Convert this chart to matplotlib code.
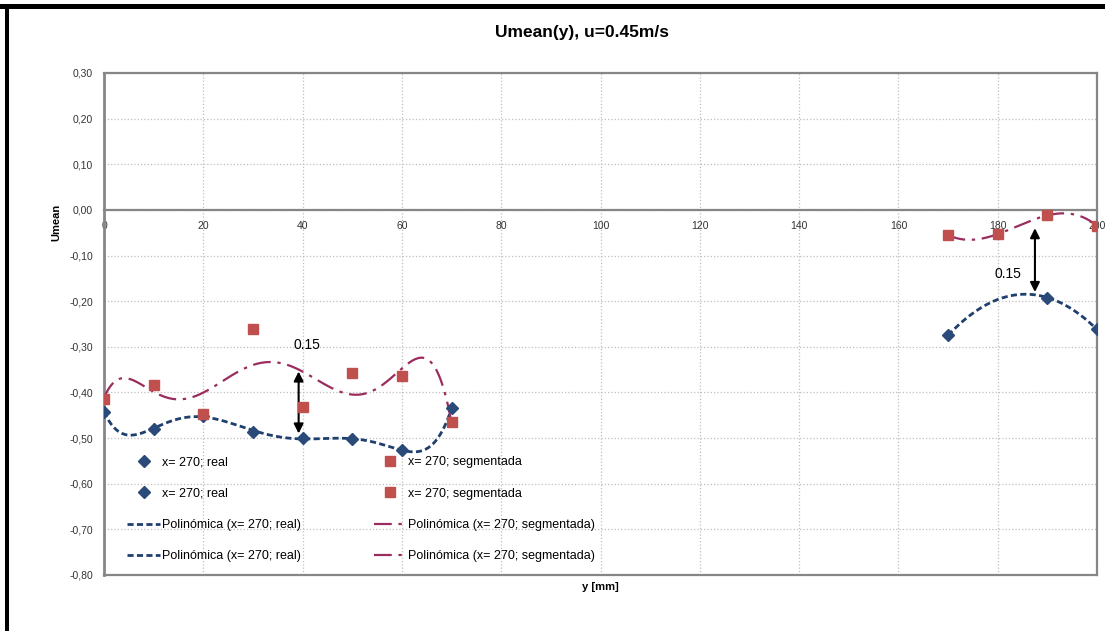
import numpy as np
import matplotlib
matplotlib.use('Agg')
import matplotlib.pyplot as plt
from matplotlib import font_manager
from matplotlib.patches import Rectangle

# font: narrow sans if available
names = {f.name for f in font_manager.fontManager.ttflist}
fam = 'Liberation Sans Narrow' if 'Liberation Sans Narrow' in names else 'Liberation Sans'
plt.rcParams['font.family'] = [fam, 'DejaVu Sans']

# data
y_left = [0, 10, 20, 30, 40, 50, 60, 70]
real_left = [-0.442, -0.479, -0.452, -0.486, -0.499, -0.503, -0.526, -0.435]
seg_left = [-0.414, -0.383, -0.447, -0.262, -0.432, -0.358, -0.363, -0.465]

y_right_real = [170, 190, 200]
real_right = [-0.275, -0.192, -0.262]
y_right_seg = [170, 180, 190, 200]
seg_right = [-0.055, -0.053, -0.012, -0.035]

x_ticks = list(range(0, 201, 20))
y_ticks = [round(v, 2) + 0.0 for v in np.arange(-0.8, 0.31, 0.1)]

c_real = '#2A4A7A'
c_seg = '#C0504D'
c_real_fit = '#1F3F6E'
c_seg_fit = '#9B2D5E'
c_spine = '#868686'
c_grid = '#BFBFBF'
c_tick = '#333333'

fig = plt.figure(figsize=(11.05, 6.31), dpi=100)
ax = fig.add_axes([104/1105, 56/631, 993/1105, 502/631])

def trend(xs, ys, deg, n=300):
    p = np.polyfit(xs, ys, deg)
    xx = np.linspace(min(xs), max(xs), n)
    return xx, np.polyval(p, xx)

# trendlines
xx, yy = trend(y_left, real_left, 6)
lr1, = ax.plot(xx, yy, color=c_real_fit, lw=2, ls=(0, (2.2, 1.2)), zorder=3)
xx, yy = trend(y_right_real, real_right, 2)
lr2, = ax.plot(xx, yy, color=c_real_fit, lw=2, ls=(0, (2.2, 1.2)), zorder=3)
xx, yy = trend(y_left, seg_left, 6)
ls1, = ax.plot(xx, yy, color=c_seg_fit, lw=1.6, ls=(0, (8, 3, 1.5, 3)), zorder=3)
xx, yy = trend(y_right_seg, seg_right, 3)
ls2, = ax.plot(xx, yy, color=c_seg_fit, lw=1.6, ls=(0, (8, 3, 1.5, 3)), zorder=3)

# points
pr1, = ax.plot(y_left, real_left, ls='none', marker='D', ms=6, color=c_real, zorder=4)
pr2, = ax.plot(y_right_real, real_right, ls='none', marker='D', ms=6, color=c_real, zorder=4)
ps1, = ax.plot(y_left, seg_left, ls='none', marker='s', ms=7.5, color=c_seg, zorder=5)
ps2, = ax.plot(y_right_seg, seg_right, ls='none', marker='s', ms=7.5, color=c_seg, zorder=5)

ax.set_xlim(0, 200)
ax.set_ylim(-0.8, 0.3)
ax.set_xticks(x_ticks)
ax.set_yticks(y_ticks)
ax.set_xticklabels([str(v) for v in x_ticks])
ax.set_yticklabels([('%.2f' % (0.0 if abs(v) < 1e-9 else v)).replace('.', ',') for v in y_ticks])
ax.tick_params(axis='both', length=0, labelsize=7.5, labelcolor=c_tick)
ax.tick_params(axis='x', pad=8)
ax.tick_params(axis='y', pad=8)
ax.grid(True, color=c_grid, ls=':', lw=0.9)
ax.set_axisbelow(True)

for s in ['top', 'right', 'left']:
    ax.spines[s].set_color(c_spine)
    ax.spines[s].set_linewidth(1.6)
ax.spines['left'].set_linewidth(2)
ax.spines['bottom'].set_position(('data', 0))
ax.spines['bottom'].set_color(c_spine)
ax.spines['bottom'].set_linewidth(1.6)
ax.plot([0, 1], [0, 0], transform=ax.transAxes, color=c_spine, lw=1.6, clip_on=False, zorder=2)

ax.set_xlabel('y [mm]', fontsize=8, fontweight='bold')
ax.xaxis.set_label_coords(0.5, -0.023)
ax.xaxis.label.set_va('center')
ax.set_ylabel('Umean', fontsize=8, fontweight='bold')
ax.yaxis.set_label_coords(-0.048, 0.703)
ax.yaxis.label.set_va('center')

fig.text(582/1105, 1 - 33/631, 'Umean(y), u=0.45m/s', ha='center', va='center',
         fontsize=12.5, fontweight='bold')

# arrows + labels
arrow = dict(arrowstyle='<|-|>', color='black', lw=1.5, mutation_scale=14, shrinkA=0, shrinkB=0)
ax.annotate('', xy=(39.2, -0.354), xytext=(39.2, -0.49), arrowprops=arrow)
ax.text(40.8, -0.297, '0.15', ha='center', va='center', fontsize=10)
ax.annotate('', xy=(187.5, -0.04), xytext=(187.5, -0.18), arrowprops=arrow)
ax.text(182, -0.14, '0.15', ha='center', va='center', fontsize=10)

handles = [pr1, pr2, lr1, lr2, ps1, ps2, ls1, ls2]
labels = ['x= 270; real', 'x= 270; real',
          'Polinómica (x= 270; real)', 'Polinómica (x= 270; real)',
          'x= 270; segmentada', 'x= 270; segmentada',
          'Polinómica (x= 270; segmentada)', 'Polinómica (x= 270; segmentada)']
fig.legend(handles, labels, ncol=2, frameon=False, fontsize=9,
           loc='upper left', bbox_to_anchor=(121/1105, 1 - 450/631),
           borderpad=0, handlelength=2.6, handletextpad=0.15,
           labelspacing=1.55, columnspacing=5.85)

# black page border
fig.add_artist(Rectangle((0, 1 - 6.8/631), 1, 2.8/631, transform=fig.transFigure,
                         color='black', lw=0))
fig.add_artist(Rectangle((0, 1 - 9/631), 1, 1.6/631, transform=fig.transFigure,
                         color='black', lw=0))
fig.add_artist(Rectangle((4.5/1105, 0), 4/1105, 1 - 4/631, transform=fig.transFigure,
                         color='black', lw=0))

fig.savefig('out.png', dpi=100)
